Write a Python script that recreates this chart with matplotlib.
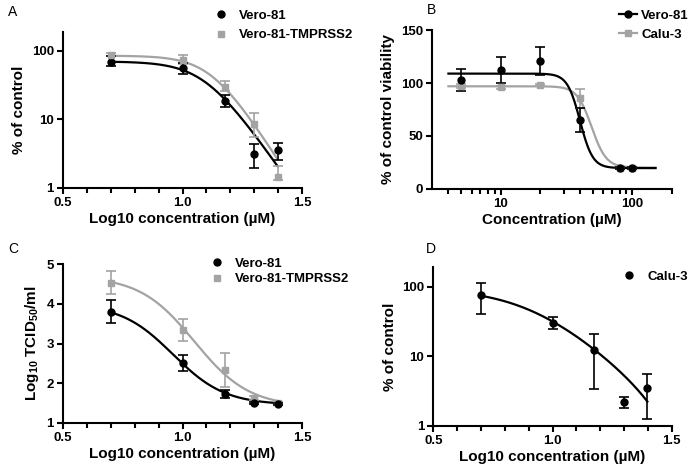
import numpy as np
import matplotlib
matplotlib.use('Agg')
import matplotlib.pyplot as plt
from matplotlib.ticker import FixedLocator, NullLocator, NullFormatter

plt.rcParams['font.family'] = ['Liberation Sans', 'DejaVu Sans']
plt.rcParams['font.weight'] = 'bold'
plt.rcParams['axes.labelweight'] = 'bold'
plt.rcParams['mathtext.fontset'] = 'custom'
plt.rcParams['mathtext.bf'] = 'Liberation Sans:bold'
plt.rcParams['mathtext.rm'] = 'Liberation Sans:bold'

# ===== Data ===== #

# log10 of 5, 10, 15, 20, 25 uM
log_conc = [0.699, 1.0, 1.176, 1.301, 1.398]

# Panel A - % of control (log axis)
a_vero_y = [69.5, 56, 18.8, 3.1, 3.55]
a_vero_lo = [61, 45.6, 15.4, 1.97, 2.57]
a_vero_hi = [84, 66.5, 22.8, 4.34, 4.59]
a_tmp_y = [88, 73, 30, 8.5, 1.46]
a_tmp_lo = [83, 64, 26, 5.6, 1.3]
a_tmp_hi = [93, 86, 36, 12.2, 2.1]

# 4PL fit parameters (top, bottom, logIC50, hill)
a_vero_fit = (70, 0, 1.095, 5.0)
a_tmp_fit = (85, 0, 1.123, 5.45)

# Panel B - viability, concentration in uM
b_conc = [5, 10, 20, 40, 80, 100]
b_vero_y = [102.9, 112.4, 120.9, 65, 19.9, 19.9]
b_vero_err = [10, 12.3, 13.6, 11.5, 1, 1]
b_calu_y = [97.3, 96, 97.9, 85.6, 20, 19.6]
b_calu_err = [1.5, 1.5, 1, 8.8, 1, 1]
b_vero_fit = (109, 19.5, 1.602, 9.0)
b_calu_fit = (97, 20, 1.69, 7.8)

# Panel C - Log10 TCID50/ml
c_vero_y = [3.80, 2.50, 1.73, 1.50, 1.47]
c_vero_err = [0.29, 0.2, 0.1, 0.03, 0.03]
c_tmp_y = [4.54, 3.34, 2.33, 1.62, 1.50]
c_tmp_err = [0.3, 0.27, 0.43, 0.05, 0.03]
c_vero_fit = (4.0, 1.45, 0.96, 4.0)
c_tmp_fit = (4.7, 1.4, 1.05, 3.8)

# Panel D - Calu-3, % of control
d_calu_y = [76.6, 30.6, 12.3, 2.2, 3.5]
d_calu_lo = [40, 24.4, 3.43, 1.8, 1.26]
d_calu_hi = [113, 37, 21.2, 2.6, 5.65]
d_calu_fit = (95, -1.5, 0.9, 2.8)

x_ticks = [0.5, 1.0, 1.5]
x_labels = ['0.5', '1.0', '1.5']
log_ticks = [1, 10, 100]
log_labels = ['1', '10', '100']

GREY = '#a3a3a3'
LABEL_FS = 11
TICK_FS = 9.5
BOLD = dict(fontsize=TICK_FS, fontweight='bold')


def four_pl(x, p):
    top, bottom, c, h = p
    return bottom + (top - bottom) / (1 + 10 ** ((x - c) * h))


def style_axes(ax):
    for s in ['top', 'right']:
        ax.spines[s].set_visible(False)
    for s in ['left', 'bottom']:
        ax.spines[s].set_linewidth(1.5)
    ax.tick_params(which='major', length=4.5, width=1.5, pad=2)
    ax.tick_params(which='minor', length=3.5, width=1.5)


def log_x_axis(ax):
    ax.set_xlim(0.5, 1.5)
    ax.set_xticks(x_ticks)
    ax.set_xticklabels(x_labels, **BOLD)
    ax.xaxis.set_minor_locator(FixedLocator(np.arange(0.6, 1.5, 0.1)))
    ax.set_xlabel('Log10 concentration (µM)', fontsize=LABEL_FS, labelpad=2)


def log_y_axis(ax):
    ax.set_yscale('log')
    ax.set_ylim(1, 190)
    ax.set_yticks(log_ticks)
    ax.set_yticklabels(log_labels, **BOLD)
    ax.yaxis.set_minor_locator(NullLocator())
    ax.set_ylabel('% of control', fontsize=LABEL_FS)


fig = plt.figure(figsize=(6.88, 4.71), dpi=100)
W, H = 688.0, 471.0

ebar = dict(capsize=3.5, elinewidth=1.2, capthick=1.2, ls='none')
leg_kw = dict(bbox_transform=fig.transFigure, frameon=False,
              loc='upper left', borderpad=0, prop={'weight': 'bold', 'size': 9.5})

# ===== Panel A ===== #
ax = fig.add_axes([63 / W, 1 - 188 / H, 239 / W, 156.3 / H])
xs = np.linspace(log_conc[0], log_conc[-1], 200)
ax.plot(xs, four_pl(xs, a_tmp_fit), color=GREY, lw=1.6)
ax.plot(xs, four_pl(xs, a_vero_fit), color='black', lw=1.6)
ax.errorbar(log_conc, a_tmp_y,
            yerr=[np.subtract(a_tmp_y, a_tmp_lo), np.subtract(a_tmp_hi, a_tmp_y)],
            color=GREY, **ebar)
ax.errorbar(log_conc, a_vero_y,
            yerr=[np.subtract(a_vero_y, a_vero_lo), np.subtract(a_vero_hi, a_vero_y)],
            color='black', **ebar)
h1, = ax.plot(log_conc, a_vero_y, 'o', color='black', ms=5, label='Vero-81')
h2, = ax.plot(log_conc, a_tmp_y, 's', color=GREY, ms=5, label='Vero-81-TMPRSS2')
log_x_axis(ax)
log_y_axis(ax)
style_axes(ax)
ax.legend(handles=[h1, h2], bbox_to_anchor=(205 / W, 1 - 3 / H),
          handletextpad=0.6, labelspacing=0.55, handlelength=1.5, **leg_kw)
fig.text(8 / W, 1 - 16 / H, 'A', fontsize=10, fontweight='normal')

# ===== Panel B ===== #
ax = fig.add_axes([432 / W, 1 - 188.7 / H, 240 / W, 158.4 / H])
xs = np.logspace(np.log10(4), np.log10(150), 300)
ax.plot(xs, four_pl(np.log10(xs), b_calu_fit), color=GREY, lw=1.6)
ax.plot(xs, four_pl(np.log10(xs), b_vero_fit), color='black', lw=1.6)
ax.errorbar(b_conc, b_calu_y, yerr=b_calu_err, color=GREY, **ebar)
ax.errorbar(b_conc, b_vero_y, yerr=b_vero_err, color='black', **ebar)
ax.plot(b_conc, b_calu_y, 's', color=GREY, ms=5)
ax.plot(b_conc, b_vero_y, 'o', color='black', ms=5)
ax.set_xscale('log')
ax.set_xlim(3, 200)
ax.set_ylim(0, 150)
ax.set_yticks([0, 50, 100, 150])
ax.set_yticklabels(['0', '50', '100', '150'], **BOLD)
ax.set_xticks([10, 100])
ax.set_xticklabels(['10', '100'], **BOLD)
ax.xaxis.set_minor_locator(FixedLocator([4, 5, 6, 7, 8, 9, 20, 30, 40, 50, 60, 70, 80, 90, 200]))
ax.xaxis.set_minor_formatter(NullFormatter())
ax.set_xlabel('Concentration (µM)', fontsize=LABEL_FS, labelpad=2)
ax.set_ylabel('% of control viability', fontsize=LABEL_FS)
style_axes(ax)
l1, = ax.plot([], [], 'o-', color='black', ms=5, lw=1.6, label='Vero-81')
l2, = ax.plot([], [], 's-', color=GREY, ms=5, lw=1.6, label='Calu-3')
ax.legend(handles=[l1, l2], bbox_to_anchor=(612 / W, 1 - 3 / H),
          handletextpad=0.3, labelspacing=0.5, handlelength=1.4, **leg_kw)
fig.text(427 / W, 1 - 14 / H, 'B', fontsize=10, fontweight='normal')

# ===== Panel C ===== #
ax = fig.add_axes([63 / W, 1 - 422.7 / H, 239 / W, 158.4 / H])
xs = np.linspace(log_conc[0], log_conc[-1], 200)
ax.plot(xs, four_pl(xs, c_tmp_fit), color=GREY, lw=1.6)
ax.plot(xs, four_pl(xs, c_vero_fit), color='black', lw=1.6)
ax.errorbar(log_conc, c_tmp_y, yerr=c_tmp_err, color=GREY, **ebar)
ax.errorbar(log_conc, c_vero_y, yerr=c_vero_err, color='black', **ebar)
ax.plot(log_conc, c_tmp_y, 's', color=GREY, ms=5)
ax.plot(log_conc, c_vero_y, 'o', color='black', ms=5)
ax.set_ylim(1, 5)
ax.set_yticks([1, 2, 3, 4, 5])
ax.set_yticklabels(['1', '2', '3', '4', '5'], **BOLD)
log_x_axis(ax)
ax.set_ylabel('Log$_{\\mathbf{10}}$ TCID$_{\\mathbf{50}}$/ml', fontsize=LABEL_FS)
style_axes(ax)
ax.legend(handles=[h1, h2], bbox_to_anchor=(201 / W, 1 - 251 / H),
          handletextpad=0.6, labelspacing=0.25, handlelength=1.5, **leg_kw)
fig.text(8 / W, 1 - 253 / H, 'C', fontsize=10, fontweight='normal')

# ===== Panel D ===== #
ax = fig.add_axes([433.3 / W, 1 - 426 / H, 238.4 / W, 158.7 / H])
xs = np.linspace(log_conc[0], log_conc[-1], 200)
ax.plot(xs, four_pl(xs, d_calu_fit), color='black', lw=1.6)
ax.errorbar(log_conc, d_calu_y,
            yerr=[np.subtract(d_calu_y, d_calu_lo), np.subtract(d_calu_hi, d_calu_y)],
            color='black', **ebar)
h3, = ax.plot(log_conc, d_calu_y, 'o', color='black', ms=5, label='Calu-3')
log_x_axis(ax)
log_y_axis(ax)
style_axes(ax)
ax.legend(handles=[h3], bbox_to_anchor=(613 / W, 1 - 264 / H),
          handletextpad=0.6, handlelength=1.5, **leg_kw)
fig.text(426 / W, 1 - 253 / H, 'D', fontsize=10, fontweight='normal')

fig.savefig('out.png', dpi=100)
